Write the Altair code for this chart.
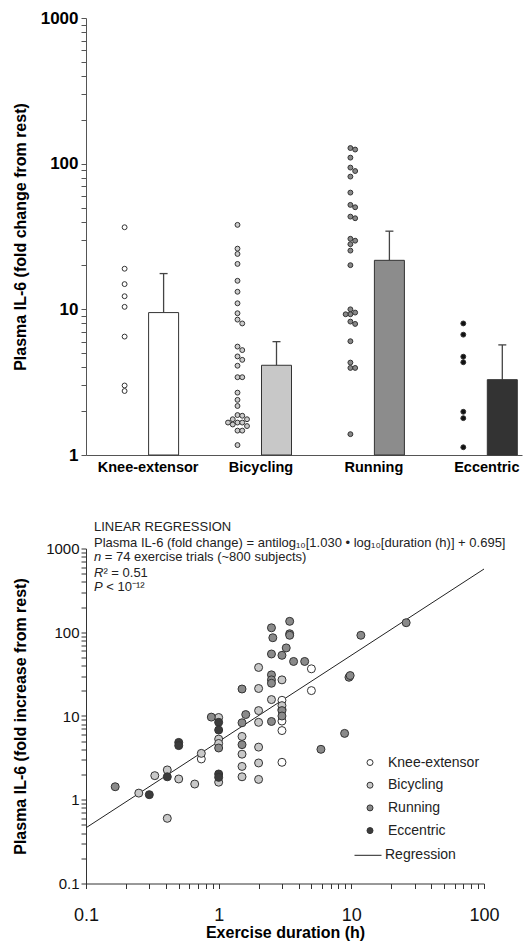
import math
import altair as alt
import pandas as pd

# ---------------- data ----------------
groups = ["Knee-extensor", "Bicycling", "Running", "Eccentric"]

# top panel: individual trial values (fold change from rest)
knee_vals = [36.6, 19.0, 14.9, 12.3, 10.4, 6.5, 3.0, 2.75]
bike_vals = [38.0, 26.1, 24.0, 20.5, 15.7, 13.2, 11.0, 9.4, 8.5, 8.0, 5.55, 5.25, 4.75, 4.5, 4.1,
             3.42, 3.42, 2.68, 2.39, 2.17, 1.88, 1.86, 1.76, 1.76, 1.67, 1.67, 1.67, 1.62, 1.58,
             1.47, 1.47, 1.17]
run_vals = [128, 125, 110, 94, 89, 81.5, 63.3, 52.1, 50.2, 43.3, 42.2, 30.5, 29.6, 28.0, 25.3,
            20.1, 10.0, 9.5, 9.25, 9.25, 8.24, 7.94, 6.04, 4.31, 3.96, 3.96, 1.39]
ecc_vals = [8.0, 6.7, 4.73, 4.33, 1.98, 1.79, 1.13]
bar_means = [9.5, 4.13, 21.7, 3.29]
bar_tops = [17.6, 6.0, 34.4, 5.7]

# bottom panel: exercise duration (h) vs IL-6 fold increase
knee_dur = [5.0, 5.0, 3.0, 3.0, 3.0, 3.0, 3.0, 0.74]
knee_il6 = [36.6, 20.1, 15.4, 12.0, 8.7, 6.7, 2.8, 3.07]
bike_dur = [0.25, 0.33, 0.41, 0.41, 0.5, 0.66, 0.74, 1.0, 1.0, 1.0, 1.0, 1.5, 1.5, 1.5, 1.5,
            2.0, 2.0, 2.0, 2.0, 2.0, 2.0, 2.0, 2.5, 3.0, 3.0]
bike_il6 = [1.2, 1.94, 2.27, 0.6, 1.77, 1.54, 3.58, 9.6, 5.3, 4.7, 1.62, 5.7, 3.5, 2.5, 1.88,
            38, 21.3, 11.6, 8.4, 4.25, 2.75, 1.75, 15.7, 27, 13.3]
run_dur = [0.166, 0.88, 1.0, 1.5, 1.5, 1.5, 1.6, 2.5, 2.56, 2.5, 2.5, 2.5, 2.5, 2.5, 3.0, 3.0,
           3.0, 3.23, 3.43, 3.43, 3.43, 3.67, 4.45, 5.9, 8.9, 9.6, 9.8, 11.8, 25.9]
run_il6 = [1.43, 9.7, 4.15, 8.3, 4.55, 21, 10.4, 113, 86, 55, 31, 27, 24.6, 8.6, 53, 11.6, 10.0,
           65, 135, 96, 92, 44.8, 44.8, 4.0, 6.2, 29, 30.4, 92, 130]
ecc_dur = [0.3, 0.41, 0.5, 0.5, 1.0, 1.0, 1.0, 1.0]
ecc_il6 = [1.15, 1.88, 4.84, 4.43, 8.4, 6.8, 2.03, 1.85]

reg_slope = 1.030
reg_intercept = 0.695
reg_x = [0.1, 100]

ann_lines = ["LINEAR REGRESSION",
             "Plasma IL-6 (fold change) = antilog₁₀[1.030 • log₁₀[duration (h)] + 0.695]"]
ann_italic = [("n", "= 74 exercise trials (~800 subjects)"), ("R", "² = 0.51"), ("P", "< 10⁻¹²")]

# ---------------- styles ----------------
FONT = "Liberation Sans"
bar_colors = ["#ffffff", "#c8c8c8", "#8c8c8c", "#333333"]
dot_colors = ["#ffffff", "#cccccc", "#888888", "#111111"]
sc_colors = ["#ffffff", "#c8c8c8", "#8a8a8a", "#3c3c3c"]

TOP_W, TOP_H = 436, 437
BOT_W, BOT_H = 398, 335
GAP = 93.5
UNIT_PX = 112.9
X_MAX = TOP_W / UNIT_PX
C0 = 61.6 / UNIT_PX
PPD = TOP_H / 3.0
centers = [C0 + i for i in range(4)]
LEG_Y0 = TOP_H + GAP + 207  # legends are placed relative to the whole figure


def swarm(vals, step_px=4.75, min_d=4.6):
    placed = []
    offs = [0.0] * len(vals)
    order = sorted(range(len(vals)), key=lambda i: -vals[i])
    for i in order:
        y = math.log10(vals[i]) * PPD
        x = 0.0
        for k in [0, 1, -1, 2, -2, 3, -3, 4, -4, 5, -5]:
            x = k * step_px
            if all((x - px) ** 2 + (y - py) ** 2 >= min_d ** 2 for px, py in placed):
                break
        placed.append((x, y))
        offs[i] = x
    return offs


rows = []
for g, vals, c in zip(groups, [knee_vals, bike_vals, run_vals, ecc_vals], centers):
    for v, o in zip(vals, swarm(vals)):
        rows.append({"group": g, "value": v, "x": c + (-23 + o) / UNIT_PX})
dots_df = pd.DataFrame(rows)

bars_df = pd.DataFrame({
    "group": groups, "mean": bar_means, "top": bar_tops,
    "xl": [c + 1 / UNIT_PX for c in centers],
    "xr": [c + 31 / UNIT_PX for c in centers],
    "xe": [c + 16 / UNIT_PX for c in centers],
    "cl": [c + 12 / UNIT_PX for c in centers],
    "cr": [c + 20 / UNIT_PX for c in centers],
})

dec_expr = "indexof([0.1,1,10,100,1000], datum.value) >= 0 ? format(datum.value, '~g') : ''"
cat_expr = (f"datum.value < {C0 + 0.5} ? '{groups[0]}' : datum.value < {C0 + 1.5} ? '{groups[1]}' : "
            f"datum.value < {C0 + 2.5} ? '{groups[2]}' : '{groups[3]}'")

x_scale_top = alt.Scale(domain=[0, X_MAX], nice=False, zero=False)
x_axis_top = alt.Axis(values=centers, labelExpr=cat_expr, ticks=False, title=None,
                      labelFontWeight="bold", labelFontSize=14.5, labelPadding=5,
                      labelFlush=False, labelOverlap=False, domainColor="#555",
                      labelColor="#000", grid=False)
y_scale_top = alt.Scale(type="log", domain=[1, 1000], nice=False)
y_ticks_top = [k * 10 ** e for e in range(0, 3) for k in range(1, 10)] + [1000]
y_axis_top = alt.Axis(values=y_ticks_top, labelExpr=dec_expr,
                      title="Plasma IL-6 (fold change from rest)", titleFontSize=16,
                      titleFontWeight="bold", labelFontSize=17, labelFontWeight="bold",
                      tickSize=5, labelPadding=3, titlePadding=12, domainColor="#555",
                      tickColor="#555", labelColor="#000", titleColor="#000",
                      grid=False, labelOverlap=False)

fill_bar = alt.Fill("group:N", scale=alt.Scale(domain=groups, range=bar_colors), legend=None)
fill_dot = alt.Fill("group:N", scale=alt.Scale(domain=groups, range=dot_colors), legend=None)

bars = alt.Chart(bars_df).mark_bar(stroke="#333", strokeWidth=1).encode(
    x=alt.X("xl:Q", scale=x_scale_top, axis=x_axis_top),
    x2="xr:Q",
    y=alt.Y("mean:Q", scale=y_scale_top, axis=y_axis_top),
    y2=alt.datum(1),
    fill=fill_bar,
)
err = alt.Chart(bars_df).mark_rule(color="#444", strokeWidth=1.3).encode(
    x=alt.X("xe:Q", scale=x_scale_top, axis=x_axis_top),
    y=alt.Y("mean:Q", scale=y_scale_top, axis=y_axis_top),
    y2="top:Q",
)
cap = alt.Chart(bars_df).mark_rule(color="#444", strokeWidth=1.3).encode(
    x=alt.X("cl:Q", scale=x_scale_top, axis=x_axis_top),
    x2="cr:Q",
    y=alt.Y("top:Q", scale=y_scale_top, axis=y_axis_top),
)
dots = alt.Chart(dots_df).mark_circle(size=24, stroke="#333", strokeWidth=1, opacity=1).encode(
    x=alt.X("x:Q", scale=x_scale_top, axis=x_axis_top),
    y=alt.Y("value:Q", scale=y_scale_top, axis=y_axis_top),
    fill=fill_dot,
)
top = alt.layer(err, cap, bars, dots).resolve_scale(fill="independent").properties(
    width=TOP_W, height=TOP_H)

# ---------------- bottom panel ----------------
sc_rows = []
for g, ds, vs in zip(groups, [knee_dur, bike_dur, run_dur, ecc_dur],
                     [knee_il6, bike_il6, run_il6, ecc_il6]):
    for d, v in zip(ds, vs):
        sc_rows.append({"group": g, "dur": d, "il6": v})
sc_df = pd.DataFrame(sc_rows)
line_df = pd.DataFrame({"dur": reg_x,
                        "il6": [10 ** (reg_slope * math.log10(x) + reg_intercept) for x in reg_x],
                        "name": ["Regression"] * 2})

x_scale_bot = alt.Scale(type="log", domain=[0.1, 100], nice=False)
y_scale_bot = alt.Scale(type="log", domain=[0.1, 1000], nice=False)
x_ticks_bot = [k * 10 ** e for e in range(-1, 2) for k in range(1, 10)] + [100]
y_ticks_bot = [k * 10 ** e for e in range(-1, 3) for k in range(1, 10)] + [1000]
x_axis_bot = alt.Axis(values=x_ticks_bot, labelExpr=dec_expr, title="Exercise duration (h)",
                      titleFontSize=16, titleFontWeight="bold", labelFontSize=18,
                      tickSize=5, labelPadding=18, titlePadding=0, domainColor="#333",
                      tickColor="#333", labelColor="#111", titleColor="#000", grid=False,
                      labelOverlap=False, labelFlush=False)
y_axis_bot = alt.Axis(values=y_ticks_bot, labelExpr=dec_expr,
                      title="Plasma IL-6 (fold increase from rest)", titleFontSize=16,
                      titleFontWeight="bold", labelFontSize=15, tickSize=5, labelPadding=2,
                      titlePadding=17, domainColor="#333", tickColor="#333",
                      labelColor="#111", titleColor="#000", grid=False, labelOverlap=False)

scatter = alt.Chart(sc_df).mark_circle(size=64, stroke="#333", strokeWidth=1, opacity=1).encode(
    x=alt.X("dur:Q", scale=x_scale_bot, axis=x_axis_bot),
    y=alt.Y("il6:Q", scale=y_scale_bot, axis=y_axis_bot),
    fill=alt.Fill("group:N", scale=alt.Scale(domain=groups, range=sc_colors),
                  legend=alt.Legend(title=None, orient="none", legendX=277, legendY=LEG_Y0,
                                    symbolType="circle", symbolSize=36,
                                    symbolStrokeColor="#333", symbolStrokeWidth=1,
                                    labelFont=FONT, labelFontSize=14, labelColor="#222",
                                    labelOffset=11, rowPadding=8.7, padding=0)),
)
reg = alt.Chart(line_df).mark_line(strokeWidth=1).encode(
    x=alt.X("dur:Q", scale=x_scale_bot, axis=x_axis_bot),
    y=alt.Y("il6:Q", scale=y_scale_bot, axis=y_axis_bot),
    stroke=alt.Stroke("name:N", scale=alt.Scale(domain=["Regression"], range=["#222"]),
                      legend=alt.Legend(title=None, orient="none", legendX=268,
                                        legendY=LEG_Y0 + 4 * 22.7 - 5, symbolType="stroke",
                                        symbolSize=729, symbolStrokeWidth=1,
                                        labelFont=FONT, labelFontSize=14, labelColor="#222",
                                        labelOffset=3, padding=0)),
)

ann_layers = []
ann_y = [-21.8, -5.8, 8.8, 24.2, 38.8]
for t, yv in zip(ann_lines, ann_y[:2]):
    ann_layers.append(alt.Chart(pd.DataFrame({"t": [t]})).mark_text(
        align="left", baseline="middle", font=FONT, fontSize=13, color="#222").encode(
        x=alt.value(8), y=alt.value(yv), text="t:N"))
ital_w = {"n": 7.2 + 3.6, "R": 9.4, "P": 8.7 + 3.6}
for (it, rest), yv in zip(ann_italic, ann_y[2:]):
    ann_layers.append(alt.Chart(pd.DataFrame({"t": [it]})).mark_text(
        align="left", baseline="middle", font=FONT, fontSize=13, fontStyle="italic",
        color="#222").encode(x=alt.value(8), y=alt.value(yv), text="t:N"))
    ann_layers.append(alt.Chart(pd.DataFrame({"t": [rest]})).mark_text(
        align="left", baseline="middle", font=FONT, fontSize=13, color="#222").encode(
        x=alt.value(8 + ital_w[it]), y=alt.value(yv), text="t:N"))

bottom = alt.layer(reg, scatter, *ann_layers).properties(width=BOT_W, height=BOT_H)

chart = alt.vconcat(top, bottom, spacing=GAP, bounds="flush").properties(
    padding={"left": 4, "top": 1, "right": 2, "bottom": 2}
).configure(font=FONT).configure_view(stroke=None).configure_axis(
    labelFont=FONT, titleFont=FONT)

chart.save("out.html", embed_options={"renderer": "svg", "actions": False})
